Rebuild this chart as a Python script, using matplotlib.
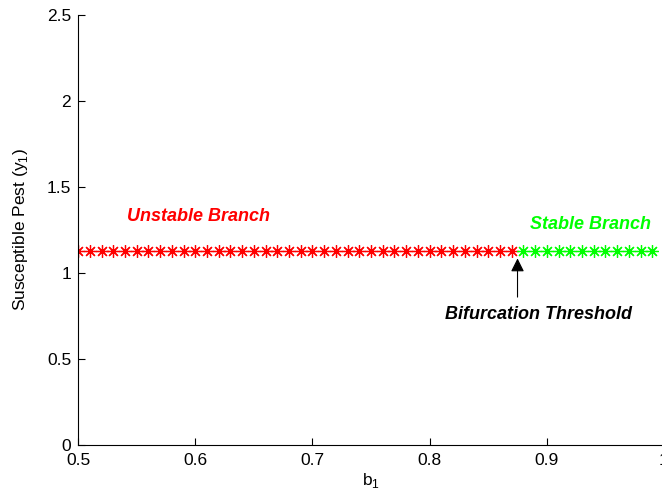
import matplotlib
matplotlib.use('Agg')
import matplotlib.pyplot as plt
import numpy as np

plt.rcParams['font.family'] = ['Liberation Sans', 'DejaVu Sans']
plt.rcParams['mathtext.fontset'] = 'custom'
plt.rcParams['mathtext.rm'] = 'Liberation Sans'

# equilibrium of susceptible pest along b1
b1_unstable = np.round(np.arange(0.50, 0.875, 0.01), 2)
y1_unstable = [1.13] * len(b1_unstable)
b1_stable = np.round(np.arange(0.88, 0.995, 0.01), 2)
y1_stable = [1.13] * len(b1_stable)
threshold = 0.875

x_ticks = [0.5, 0.6, 0.7, 0.8, 0.9, 1.0]
x_ticklabels = ['0.5', '0.6', '0.7', '0.8', '0.9', '1']
y_ticks = [0, 0.5, 1, 1.5, 2, 2.5]
y_ticklabels = ['0', '0.5', '1', '1.5', '2', '2.5']

fig = plt.figure(figsize=(6.62, 4.93), dpi=100)
ax = fig.add_axes([0.118, 0.0974, 0.885, 0.872])

# matlab-style asterisk: 8 spokes
ast = (8, 2, 0)
ax.plot(b1_unstable, y1_unstable, '-', marker=ast, color='#ff0000', lw=0.8,
        markersize=9, markeredgewidth=0.9)
ax.plot(b1_stable, y1_stable, '-', marker=ast, color='#00ff00', lw=0.8,
        markersize=9, markeredgewidth=0.9)

ax.text(0.542, 1.33, 'Unstable Branch', color='#ff0000', fontsize=13, fontweight='bold',
        fontstyle='italic', va='center', ha='left')
ax.text(0.886, 1.28, 'Stable Branch', color='#00ff00', fontsize=13, fontweight='bold',
        fontstyle='italic', va='center', ha='left')
ax.text(0.813, 0.76, 'Bifurcation Threshold', color='black', fontsize=13, fontweight='bold',
        fontstyle='italic', va='center', ha='left')
ax.annotate('', xy=(threshold, 1.085), xytext=(threshold, 0.86),
            arrowprops=dict(arrowstyle='-|>', color='black', lw=0.8, mutation_scale=20,
                            shrinkA=0, shrinkB=0))

ax.set_xlim(0.5, 1.0)
ax.set_ylim(0, 2.5)
ax.set_xticks(x_ticks)
ax.set_xticklabels(x_ticklabels)
ax.set_yticks(y_ticks)
ax.set_yticklabels(y_ticklabels)
ax.tick_params(direction='in', length=5, width=0.8, labelsize=12.5)
ax.tick_params(axis='x', pad=6)
ax.tick_params(axis='y', pad=5)
ax.spines['top'].set_visible(False)
ax.spines['right'].set_visible(False)

ax.set_xlabel('b$_1$', fontsize=12.5, labelpad=2)
ax.set_ylabel('Susceptible Pest (y$_1$)', fontsize=12.5, labelpad=12)

fig.savefig('out.png', dpi=100)
